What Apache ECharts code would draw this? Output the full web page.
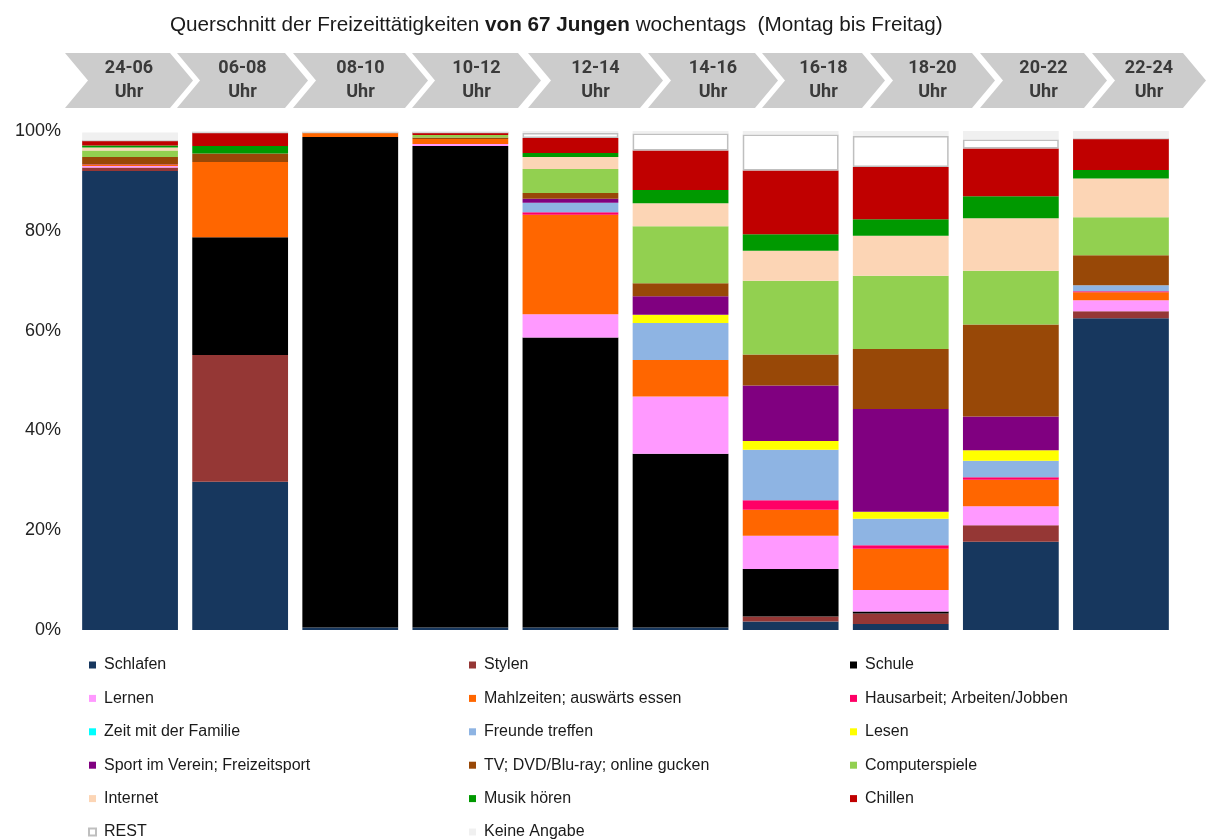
<!DOCTYPE html>
<html>
<head>
<meta charset="utf-8">
<script src="https://cdn.jsdelivr.net/npm/echarts@6/dist/echarts.min.js"></script>
<style>
  html, body { margin: 0; padding: 0; background: #fff; }
  #chart { width: 1208px; height: 839px; }
</style>
</head>
<body>
<div id="chart"></div>
<script>
// Zeitfenster (Kategorien)
const slots = ['24-06', '06-08', '08-10', '10-12', '12-14', '14-16', '16-18', '18-20', '20-22', '22-24']

// Anteile in % pro Zeitfenster, von unten nach oben gestapelt
const schlafen      = [92.0, 29.7,  0.5,  0.5,  0.5,  0.5,  1.7,  1.2, 17.7, 62.5]
const stylen        = [ 0.7, 25.4,  0,    0,    0,    0,    1.0,  2.1,  3.3,  1.4]
const schule        = [ 0,   23.6, 98.3, 96.5, 58.1, 34.8,  9.5,  0.4,  0,    0]
const lernen        = [ 0.3,  0,    0,    0.4,  4.7, 11.5,  6.7,  4.3,  3.8,  2.2]
const mahlzeiten    = [ 0.2, 15.1,  0.9,  1.0, 19.9,  7.3,  5.2,  8.3,  5.3,  1.6]
const hausarbeit    = [ 0.1,  0,    0,    0,    0.5,  0,    1.9,  0.7,  0.5,  0.2]
const familie       = [ 0,    0,    0,    0,    0,    0,    0,    0,    0,    0]
const freunde       = [ 0,    0,    0,    0,    1.9,  7.4, 10.1,  5.3,  3.3,  1.2]
const lesen         = [ 0,    0,    0,    0,    0,    1.7,  1.8,  1.4,  2.1,  0]
const sport         = [ 0,    0,    0,    0,    0.8,  3.7, 11.1, 20.6,  6.8,  0]
const tv            = [ 1.5,  1.7,  0,    0.3,  1.2,  2.6,  6.2, 12.0, 18.4,  6.0]
const computer      = [ 1.3,  0,    0,    0.5,  4.8, 11.4, 14.8, 14.7, 10.8,  7.6]
const internet      = [ 0.6,  0,    0,    0,    2.4,  4.6,  6.0,  8.0, 10.5,  7.8]
const musik         = [ 0.4,  1.5,  0,    0,    0.8,  2.7,  3.3,  3.3,  4.4,  1.7]
const chillen       = [ 1.0,  2.7,  0,    0.5,  3.0,  7.9, 12.8, 10.5,  9.6,  6.3]
const rest          = [ 0,    0,    0,    0,    1.0,  3.4,  7.2,  6.2,  1.8,  0]
const keineAngabe   = [ 1.6,  0.3,  0.3,  0.3,  0.4,  0.5,  0.7,  1.0,  1.7,  1.5]

const yTicks = [0, 20, 40, 60, 80, 100]

const series = [
  { name: 'Schlafen', data: schlafen, color: '#17375e' },
  { name: 'Stylen', data: stylen, color: '#953735' },
  { name: 'Schule', data: schule, color: '#000000' },
  { name: 'Lernen', data: lernen, color: '#ff99ff' },
  { name: 'Mahlzeiten; auswärts essen', data: mahlzeiten, color: '#ff6600' },
  { name: 'Hausarbeit; Arbeiten/Jobben', data: hausarbeit, color: '#ff0066' },
  { name: 'Zeit mit der Familie', data: familie, color: '#00ffff' },
  { name: 'Freunde treffen', data: freunde, color: '#8eb4e3' },
  { name: 'Lesen', data: lesen, color: '#ffff00' },
  { name: 'Sport im Verein; Freizeitsport', data: sport, color: '#800080' },
  { name: 'TV; DVD/Blu-ray; online gucken', data: tv, color: '#984807' },
  { name: 'Computerspiele', data: computer, color: '#92d050' },
  { name: 'Internet', data: internet, color: '#fcd5b5' },
  { name: 'Musik hören', data: musik, color: '#009900' },
  { name: 'Chillen', data: chillen, color: '#c00000' },
  { name: 'REST', data: rest, color: '#ffffff', border: '#bfbfbf' },
  { name: 'Keine Angabe', data: keineAngabe, color: '#f0f0f0' }
]

// Legende in drei Spalten
const legendCols = [
  ['Schlafen', 'Lernen', 'Zeit mit der Familie', 'Sport im Verein; Freizeitsport', 'Internet', 'REST'],
  ['Stylen', 'Mahlzeiten; auswärts essen', 'Freunde treffen', 'TV; DVD/Blu-ray; online gucken', 'Musik hören', 'Keine Angabe'],
  ['Schule', 'Hausarbeit; Arbeiten/Jobben', 'Lesen', 'Computerspiele', 'Chillen']
]
const legendLeft = [88, 469, 850]

// Pfeil-Kopfzeile: linke und rechte Kante jedes Pfeils
const chevrons = [[65, 170], [177, 285], [293, 405], [412, 518], [528, 640],
                  [648, 755], [762, 862], [870, 972], [980, 1084], [1092, 1183]]

const chart = echarts.init(document.getElementById('chart'))

const font = 'Liberation Sans, Arial, sans-serif'
const chevTop = 53, chevBot = 108, chevD = 23
const chevMid = (chevTop + chevBot) / 2
const graphic = []
chevrons.forEach(([x0, x1], i) => {
  graphic.push({
    type: 'polygon',
    silent: true,
    shape: { points: [[x0, chevTop], [x1, chevTop], [x1 + chevD, chevMid], [x1, chevBot], [x0, chevBot], [x0 + chevD, chevMid]] },
    style: { fill: '#cccccc' }
  })
  graphic.push({
    type: 'text',
    silent: true,
    x: (x0 + x1 + chevD) / 2,
    y: chevMid,
    style: {
      text: slots[i] + '\nUhr',
      fill: '#3a3a3a',
      font: 'bold 18px Roboto, sans-serif',
      lineHeight: 24,
      align: 'center',
      verticalAlign: 'middle'
    }
  })
})

const option = {
  animation: false,
  backgroundColor: '#fff',
  title: {
    left: 165,
    top: 10,
    text: '{n|Querschnitt der Freizeittätigkeiten }{b|von 67 Jungen}{n| wochentags  (Montag bis Freitag)}',
    textStyle: {
      fontWeight: 'normal',
      rich: {
        n: { fontFamily: font, fontSize: 20.7, fontWeight: 'normal', color: '#1a1a1a' },
        b: { fontFamily: font, fontSize: 20.7, fontWeight: 'bold', color: '#1a1a1a' }
      }
    }
  },
  legend: legendCols.map((col, i) => ({
    orient: 'vertical',
    left: legendLeft[i],
    top: 657,
    height: 190,
    padding: 0,
    data: col,
    icon: 'rect',
    itemWidth: 7,
    itemHeight: 7,
    itemGap: 17.4,
    selectedMode: false,
    textStyle: { fontFamily: font, fontSize: 16, color: '#1a1a1a', lineHeight: 16, padding: [0, 0, 0, 3] }
  })),
  grid: { left: 75, right: 32, top: 131, bottom: 209 },
  xAxis: {
    type: 'category',
    data: slots,
    axisLine: { show: false },
    axisTick: { show: false },
    axisLabel: { show: false }
  },
  yAxis: {
    type: 'value',
    min: yTicks[0],
    max: yTicks[yTicks.length - 1],
    interval: 20,
    splitLine: { show: false },
    axisLine: { show: false },
    axisTick: { show: false },
    axisLabel: { formatter: '{value}%', fontFamily: font, fontSize: 18, color: '#222', margin: 14 }
  },
  graphic,
  series: series.map(s => ({
    name: s.name,
    type: 'bar',
    stack: 'total',
    barCategoryGap: '13%',
    data: s.data,
    itemStyle: s.border
      ? { color: s.color, borderColor: s.border, borderWidth: 1.5 }
      : { color: s.color }
  }))
}

chart.setOption(option)
</script>
</body>
</html>
